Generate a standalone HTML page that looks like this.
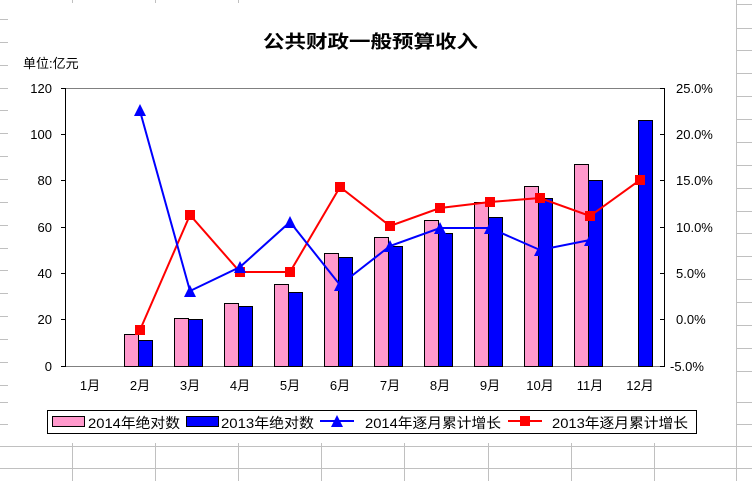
<!DOCTYPE html>
<html><head><meta charset="utf-8"><style>
html,body{margin:0;padding:0;background:#fff;}
svg{display:block;font-family:"Liberation Sans","Noto Sans CJK SC",sans-serif;}
</style></head><body>
<svg width="752" height="481" viewBox="0 0 752 481" xmlns="http://www.w3.org/2000/svg">
<rect width="752" height="481" fill="#fff"/>
<g stroke="#c0c0c0" stroke-width="1">
<line x1="0" y1="19.5" x2="8" y2="19.5"/><line x1="0" y1="42.5" x2="8" y2="42.5"/><line x1="0" y1="65.5" x2="8" y2="65.5"/><line x1="0" y1="88.5" x2="8" y2="88.5"/><line x1="0" y1="110.5" x2="8" y2="110.5"/><line x1="0" y1="133.5" x2="8" y2="133.5"/><line x1="0" y1="156.5" x2="8" y2="156.5"/><line x1="0" y1="179.5" x2="8" y2="179.5"/><line x1="0" y1="202.5" x2="8" y2="202.5"/><line x1="0" y1="225.5" x2="8" y2="225.5"/><line x1="0" y1="248.5" x2="8" y2="248.5"/><line x1="0" y1="270.5" x2="8" y2="270.5"/><line x1="0" y1="293.5" x2="8" y2="293.5"/><line x1="0" y1="316.5" x2="8" y2="316.5"/><line x1="0" y1="339.5" x2="8" y2="339.5"/><line x1="0" y1="362.5" x2="8" y2="362.5"/><line x1="0" y1="385.5" x2="8" y2="385.5"/><line x1="0" y1="402.5" x2="8" y2="402.5"/><line x1="0" y1="424.5" x2="8" y2="424.5"/>
<line x1="736.5" y1="0" x2="736.5" y2="481"/>
<line x1="736" y1="4.5" x2="752" y2="4.5"/><line x1="736" y1="28.5" x2="752" y2="28.5"/><line x1="736" y1="50.5" x2="752" y2="50.5"/><line x1="736" y1="73.5" x2="752" y2="73.5"/><line x1="736" y1="96.5" x2="752" y2="96.5"/><line x1="736" y1="119.5" x2="752" y2="119.5"/><line x1="736" y1="142.5" x2="752" y2="142.5"/><line x1="736" y1="165.5" x2="752" y2="165.5"/><line x1="736" y1="188.5" x2="752" y2="188.5"/><line x1="736" y1="211.5" x2="752" y2="211.5"/><line x1="736" y1="233.5" x2="752" y2="233.5"/><line x1="736" y1="256.5" x2="752" y2="256.5"/><line x1="736" y1="279.5" x2="752" y2="279.5"/><line x1="736" y1="302.5" x2="752" y2="302.5"/><line x1="736" y1="325.5" x2="752" y2="325.5"/><line x1="736" y1="348.5" x2="752" y2="348.5"/><line x1="736" y1="371.5" x2="752" y2="371.5"/><line x1="736" y1="402.5" x2="752" y2="402.5"/><line x1="736" y1="424.5" x2="752" y2="424.5"/>
<line x1="72.5" y1="0" x2="72.5" y2="3"/><line x1="155.5" y1="0" x2="155.5" y2="3"/><line x1="238.5" y1="0" x2="238.5" y2="3"/>
<line x1="0" y1="446.5" x2="752" y2="446.5"/><line x1="0" y1="468.5" x2="752" y2="468.5"/>
<line x1="72.5" y1="443" x2="72.5" y2="481"/><line x1="155.5" y1="443" x2="155.5" y2="481"/><line x1="238.5" y1="443" x2="238.5" y2="481"/><line x1="321.5" y1="443" x2="321.5" y2="481"/><line x1="404.5" y1="443" x2="404.5" y2="481"/><line x1="488.5" y1="443" x2="488.5" y2="481"/><line x1="571.5" y1="443" x2="571.5" y2="481"/><line x1="654.5" y1="443" x2="654.5" y2="481"/>
</g>
<text x="263" y="48" font-size="18" font-weight="bold" textLength="215" lengthAdjust="spacingAndGlyphs">公共财政一般预算收入</text>
<text x="23" y="68" font-size="13">单位:亿元</text>
<line x1="65" y1="88.5" x2="664" y2="88.5" stroke="#808080"/>
<line x1="65" y1="366.5" x2="664" y2="366.5" stroke="#808080"/>
<line x1="65.5" y1="88" x2="65.5" y2="367" stroke="#000"/>
<line x1="664.5" y1="88" x2="664.5" y2="367" stroke="#000"/>
<g stroke="#000">
<line x1="61" y1="88.5" x2="65" y2="88.5"/><line x1="61" y1="134.5" x2="65" y2="134.5"/><line x1="61" y1="180.5" x2="65" y2="180.5"/><line x1="61" y1="227.5" x2="65" y2="227.5"/><line x1="61" y1="273.5" x2="65" y2="273.5"/><line x1="61" y1="319.5" x2="65" y2="319.5"/><line x1="61" y1="366.5" x2="65" y2="366.5"/>
<line x1="660" y1="88.5" x2="664" y2="88.5"/><line x1="660" y1="134.5" x2="664" y2="134.5"/><line x1="660" y1="180.5" x2="664" y2="180.5"/><line x1="660" y1="227.5" x2="664" y2="227.5"/><line x1="660" y1="273.5" x2="664" y2="273.5"/><line x1="660" y1="319.5" x2="664" y2="319.5"/><line x1="660" y1="366.5" x2="664" y2="366.5"/>
</g>
<g font-size="13" text-anchor="end">
<text x="52" y="93">120</text><text x="52" y="139">100</text><text x="52" y="185">80</text><text x="52" y="232">60</text><text x="52" y="278">40</text><text x="52" y="324">20</text><text x="52" y="371">0</text>
</g>
<g font-size="13" text-anchor="start">
<text x="676" y="93">25.0%</text><text x="676" y="139">20.0%</text><text x="676" y="185">15.0%</text><text x="676" y="232">10.0%</text><text x="676" y="278">5.0%</text><text x="676" y="324">0.0%</text><text x="670" y="371">-5.0%</text>
</g>
<g font-size="13" text-anchor="middle">
<text x="90" y="390">1月</text><text x="140" y="390">2月</text><text x="190" y="390">3月</text><text x="240" y="390">4月</text><text x="290" y="390">5月</text><text x="340" y="390">6月</text><text x="390" y="390">7月</text><text x="440" y="390">8月</text><text x="490" y="390">9月</text><text x="540" y="390">10月</text><text x="590" y="390">11月</text><text x="640" y="390">12月</text>
</g>
<g stroke="#000" stroke-width="1">
<g fill="#ff99cc">
<rect x="124.5" y="334.5" width="14" height="32"/>
<rect x="174.5" y="318.5" width="14" height="48"/>
<rect x="224.5" y="303.5" width="14" height="63"/>
<rect x="274.5" y="284.5" width="14" height="82"/>
<rect x="324.5" y="253.5" width="14" height="113"/>
<rect x="374.5" y="237.5" width="14" height="129"/>
<rect x="424.5" y="220.5" width="14" height="146"/>
<rect x="474.5" y="202.5" width="14" height="164"/>
<rect x="524.5" y="186.5" width="14" height="180"/>
<rect x="574.5" y="164.5" width="14" height="202"/>
</g>
<g fill="#0000ff">
<rect x="138.5" y="340.5" width="14" height="26"/>
<rect x="188.5" y="319.5" width="14" height="47"/>
<rect x="238.5" y="306.5" width="14" height="60"/>
<rect x="288.5" y="292.5" width="14" height="74"/>
<rect x="338.5" y="257.5" width="14" height="109"/>
<rect x="388.5" y="246.5" width="14" height="120"/>
<rect x="438.5" y="233.5" width="14" height="133"/>
<rect x="488.5" y="217.5" width="14" height="149"/>
<rect x="538.5" y="198.5" width="14" height="168"/>
<rect x="588.5" y="180.5" width="14" height="186"/>
<rect x="638.5" y="120.5" width="14" height="246"/>
</g>
</g>
<polyline fill="none" stroke="#ff0000" stroke-width="2" points="140,330 190,215 240,272 290,272 340,187 390,226 440,208 490,202 540,198 590,216 640,180"/>
<g fill="#ff0000">
<rect x="135" y="325" width="10" height="10"/><rect x="185" y="210" width="10" height="10"/><rect x="235" y="267" width="10" height="10"/><rect x="285" y="267" width="10" height="10"/><rect x="335" y="182" width="10" height="10"/><rect x="385" y="221" width="10" height="10"/><rect x="435" y="203" width="10" height="10"/><rect x="485" y="197" width="10" height="10"/><rect x="535" y="193" width="10" height="10"/><rect x="585" y="211" width="10" height="10"/><rect x="635" y="175" width="10" height="10"/>
</g>
<polyline fill="none" stroke="#0000ff" stroke-width="2" points="140,111 190,291 240,267 290,222 340,285 390,246 440,228 490,228 540,250 590,240"/>
<g fill="#0000ff">
<polygon points="140,104 134,116 146,116"/><polygon points="190,285 184,297 196,297"/><polygon points="240,261 234,273 246,273"/><polygon points="290,216 284,228 296,228"/><polygon points="340,279 334,291 346,291"/><polygon points="390,240 384,252 396,252"/><polygon points="440,222 434,234 446,234"/><polygon points="490,222 484,234 496,234"/><polygon points="540,244 534,256 546,256"/><polygon points="590,234 584,246 596,246"/>
</g>
<rect x="47.5" y="410.5" width="649" height="23" fill="#fff" stroke="#000"/>
<rect x="52.5" y="416.5" width="32" height="10" fill="#ff99cc" stroke="#000"/>
<text x="88" y="428" font-size="14" textLength="92" lengthAdjust="spacingAndGlyphs">2014年绝对数</text>
<rect x="186.5" y="416.5" width="32" height="10" fill="#0000ff" stroke="#000"/>
<text x="221" y="428" font-size="14" textLength="93" lengthAdjust="spacingAndGlyphs">2013年绝对数</text>
<line x1="320" y1="421" x2="354" y2="421" stroke="#0000ff" stroke-width="2"/>
<polygon points="337,415 331,427 343,427" fill="#0000ff"/>
<text x="365" y="428" font-size="14" textLength="136" lengthAdjust="spacingAndGlyphs">2014年逐月累计增长</text>
<line x1="508" y1="421" x2="542" y2="421" stroke="#ff0000" stroke-width="2"/>
<rect x="520" y="416" width="10" height="10" fill="#ff0000"/>
<text x="552" y="428" font-size="14" textLength="136" lengthAdjust="spacingAndGlyphs">2013年逐月累计增长</text>
</svg>
</body></html>
